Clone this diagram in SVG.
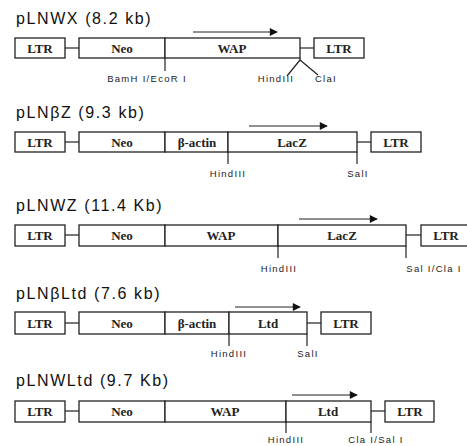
<svg xmlns="http://www.w3.org/2000/svg" width="467" height="446" viewBox="0 0 467 446">
<style>
.t{font-family:"Liberation Sans",Arial,sans-serif;font-size:16px;letter-spacing:1.6px;fill:#111}
.b{fill:#fff;stroke:#222;stroke-width:1.3}
.l{font-family:"Liberation Serif","Times New Roman",serif;font-size:13px;font-weight:bold;fill:#222;text-anchor:middle}
.s{font-family:"Liberation Sans",Arial,sans-serif;font-size:9.5px;letter-spacing:1.3px;fill:#222;text-anchor:middle}
.c line{stroke:#222;stroke-width:1.2}
</style>
<defs>
<marker id="ah" viewBox="0 0 10 10" refX="9" refY="5" markerWidth="10" markerHeight="8" markerUnits="userSpaceOnUse" orient="auto">
<path d="M0,0 L10,5 L0,10 Z" fill="#111"/>
</marker>
</defs>

<!-- Row 1 -->
<g id="pLNWX">
<text class="t" x="16" y="24">pLNWX (8.2 kb)</text>
<rect class="b" x="15" y="38" width="50" height="20"/><text class="l" x="40" y="52.5">LTR</text>
<rect class="b" x="79" y="38" width="86" height="20"/><text class="l" x="122" y="52.5">Neo</text>
<rect class="b" x="165" y="38" width="135" height="20"/><text class="l" x="232" y="52.5">WAP</text>
<rect class="b" x="314" y="38" width="50" height="20"/><text class="l" x="339" y="52.5">LTR</text>
<text class="s" x="147" y="82">BamH I/EcoR I</text>
<text class="s" x="276" y="82">HindIII</text>
<text class="s" x="326" y="82">ClaI</text>
</g>

<!-- Row 2 -->
<g id="pLNbZ">
<text class="t" x="16" y="118">pLNβZ (9.3 kb)</text>
<rect class="b" x="15" y="132" width="50" height="20"/><text class="l" x="40" y="146.5">LTR</text>
<rect class="b" x="79" y="132" width="86" height="20"/><text class="l" x="122" y="146.5">Neo</text>
<rect class="b" x="165" y="132" width="63" height="20"/><text class="l" x="197" y="146.5">β-actin</text>
<rect class="b" x="228" y="132" width="129" height="20"/><text class="l" x="292" y="146.5">LacZ</text>
<rect class="b" x="371" y="132" width="50" height="20"/><text class="l" x="396" y="146.5">LTR</text>
<text class="s" x="228" y="177">HindIII</text>
<text class="s" x="358" y="177">SalI</text>
</g>

<!-- Row 3 -->
<g id="pLNWZ">
<text class="t" x="16" y="211">pLNWZ (11.4 Kb)</text>
<rect class="b" x="15" y="225" width="50" height="21"/><text class="l" x="40" y="240">LTR</text>
<rect class="b" x="79" y="225" width="86" height="21"/><text class="l" x="122" y="240">Neo</text>
<rect class="b" x="165" y="225" width="113" height="21"/><text class="l" x="221" y="240">WAP</text>
<rect class="b" x="278" y="225" width="128" height="21"/><text class="l" x="342" y="240">LacZ</text>
<rect class="b" x="421" y="225" width="52" height="21"/><text class="l" x="446" y="240">LTR</text>
<text class="s" x="279" y="272">HindIII</text>
<text class="s" x="434" y="272">Sal I/Cla I</text>
</g>

<!-- Row 4 -->
<g id="pLNbLtd">
<text class="t" x="16" y="299">pLNβLtd (7.6 kb)</text>
<rect class="b" x="15" y="312" width="50" height="22"/><text class="l" x="40" y="327.5">LTR</text>
<rect class="b" x="79" y="312" width="86" height="22"/><text class="l" x="122" y="327.5">Neo</text>
<rect class="b" x="165" y="312" width="64" height="22"/><text class="l" x="197" y="327.5">β-actin</text>
<rect class="b" x="229" y="312" width="78" height="22"/><text class="l" x="268" y="327.5">Ltd</text>
<rect class="b" x="321" y="312" width="50" height="22"/><text class="l" x="346" y="327.5">LTR</text>
<text class="s" x="229" y="357">HindIII</text>
<text class="s" x="308" y="357">SalI</text>
</g>

<!-- Row 5 -->
<g id="pLNWLtd">
<text class="t" x="16" y="386">pLNWLtd (9.7 Kb)</text>
<rect class="b" x="15" y="401" width="50" height="21"/><text class="l" x="40" y="416">LTR</text>
<rect class="b" x="79" y="401" width="86" height="21"/><text class="l" x="122" y="416">Neo</text>
<rect class="b" x="165" y="401" width="121" height="21"/><text class="l" x="225" y="416">WAP</text>
<rect class="b" x="286" y="401" width="85" height="21"/><text class="l" x="328" y="416">Ltd</text>
<rect class="b" x="385" y="401" width="49" height="21"/><text class="l" x="410" y="416">LTR</text>
<text class="s" x="286" y="443">HindIII</text>
<text class="s" x="376" y="443">Cla I/Sal I</text>
</g>

<g id="connectors" class="c">
<!-- row1 -->
<line x1="65" y1="48" x2="79" y2="48"/>
<line x1="300" y1="48" x2="314" y2="48"/>
<line x1="193" y1="32" x2="277" y2="32" marker-end="url(#ah)"/>
<line x1="165" y1="58" x2="165" y2="71"/>
<line x1="300" y1="58" x2="300" y2="61"/>
<line x1="300" y1="60" x2="287" y2="76"/>
<line x1="300" y1="60" x2="318" y2="75"/>
<!-- row2 -->
<line x1="65" y1="142" x2="79" y2="142"/>
<line x1="357" y1="142" x2="371" y2="142"/>
<line x1="249" y1="126" x2="327" y2="126" marker-end="url(#ah)"/>
<line x1="228" y1="152" x2="228" y2="164"/>
<line x1="357" y1="152" x2="357" y2="164"/>
<!-- row3 -->
<line x1="65" y1="235" x2="79" y2="235"/>
<line x1="406" y1="235" x2="421" y2="235"/>
<line x1="299" y1="219" x2="377" y2="219" marker-end="url(#ah)"/>
<line x1="278" y1="246" x2="278" y2="258"/>
<line x1="406" y1="246" x2="406" y2="258"/>
<!-- row4 -->
<line x1="65" y1="323" x2="79" y2="323"/>
<line x1="307" y1="323" x2="321" y2="323"/>
<line x1="235" y1="307" x2="300" y2="307" marker-end="url(#ah)"/>
<line x1="229" y1="334" x2="229" y2="346"/>
<line x1="307" y1="334" x2="307" y2="346"/>
<!-- row5 -->
<line x1="65" y1="411" x2="79" y2="411"/>
<line x1="371" y1="411" x2="385" y2="411"/>
<line x1="292" y1="395" x2="357" y2="395" marker-end="url(#ah)"/>
<line x1="286" y1="422" x2="286" y2="433"/>
<line x1="371" y1="422" x2="371" y2="433"/>
</g>
</svg>
